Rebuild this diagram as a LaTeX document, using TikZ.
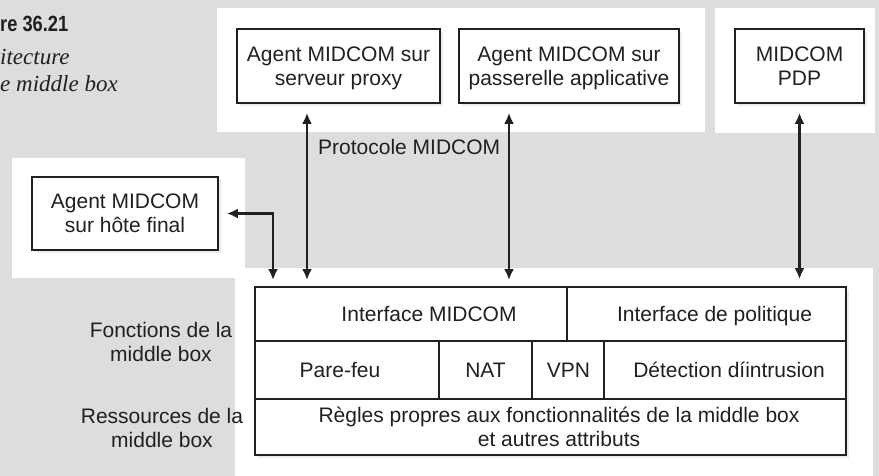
\documentclass[tikz,border=0pt]{standalone}
\usepackage{fontspec}
\setmainfont{Liberation Sans}
\newfontfamily\captionserif{Liberation Serif}
\usepackage{graphicx}
\usepackage{tikz}
\usetikzlibrary{arrows.meta, positioning, shadows}
\definecolor{panelgrey}{RGB}{220,221,223}
\definecolor{inkdark}{RGB}{35,31,32}

\begin{document}
\begin{tikzpicture}[x=1pt, y=-1pt,
  every node/.style={text=inkdark, inner sep=0pt, font=\fontsize{21}{24}\selectfont},
  panel/.style={fill=white, draw=none},
  agentbox/.style={draw=inkdark, line width=1.8pt, fill=white, align=center, text depth=0pt,
    drop shadow={opacity=0.15, shadow xshift=3pt, shadow yshift=-3pt}},
  gridline/.style={draw=inkdark, line width=1.8pt},
  sidelabel/.style={align=center, text depth=0pt},
  link/.style={draw=inkdark, line width=2.4pt, {Latex[length=11pt,width=10pt]}-{Latex[length=11pt,width=10pt]},
    shorten <=9pt, shorten >=7pt}]
  \useasboundingbox (0,0) rectangle (879,476);
  \fill[panelgrey] (0,0) rectangle (879,476);
  % white panels
  \fill[panel] (217,8) rectangle (705,132);
  \fill[panel] (715,8) rectangle (875,133);
  \fill[panel] (12,158) rectangle (245,278);
  \fill[panel] (235,268) rectangle (873,476);

  % figure title
  \node[anchor=base west, font=\fontsize{22}{26}\bfseries\selectfont] (fignum) at (0,32) {\scalebox{0.83}[1]{re 36.21}};
  \node[anchor=base west, font=\captionserif\itshape\fontsize{23}{28}\selectfont] (figcap1) at (0,65) {itecture};
  \node[anchor=base west, font=\captionserif\itshape\fontsize{23}{28}\selectfont] (figcap2) at (0,92) {e middle box};

  % agents
  \node[agentbox, minimum width=203, minimum height=74] (proxy) at (338.5,66) {Agent MIDCOM sur\\serveur proxy};
  \node[agentbox, minimum width=220, minimum height=74] (gateway) at (569,66) {Agent MIDCOM sur\\passerelle applicative};
  \node[agentbox, minimum width=129, minimum height=74] (pdp) at (799.5,66) {MIDCOM\\PDP};
  \node[agentbox, minimum width=186, minimum height=73] (host) at (125,213.5) {Agent MIDCOM\\sur h\^ote final};

  % middle box
  \node[agentbox, minimum width=591, minimum height=168] (mbox) at (550.5,371) {};
  \draw[gridline] (255,341) -- (846,341);
  \draw[gridline] (255,399) -- (846,399);
  \draw[gridline] (567,287) -- (567,341);
  \draw[gridline] (439,341) -- (439,399);
  \draw[gridline] (532,341) -- (532,399);
  \draw[gridline] (604,341) -- (604,399);
  \node[anchor=base] (ifmidcom) at (429,321.5) {Interface MIDCOM};
  \node[anchor=base] (ifpolicy) at (714.5,321.5) {Interface de politique};
  \node[anchor=base] (firewall) at (340,377.5) {Pare-feu};
  \node[anchor=base] (nat) at (485.5,377.5) {NAT};
  \node[anchor=base] (vpn) at (568.5,377.5) {VPN};
  \node[anchor=base] (ids) at (729,377.5) {D\'etection d\'iintrusion};
  \node[sidelabel] (rules) at (559,427) {R\`egles propres aux fonctionnalit\'es de la middle box\\et autres attributs};

  \node[sidelabel] (funcs) at (161,342) {Fonctions de la\\middle box};
  \node[sidelabel] (rsrc) at (162,428) {Ressources de la\\middle box};

  % protocol links
  \coordinate (inhost) at (273,287);
  \coordinate (inproxy) at (307,287);
  \coordinate (ingateway) at (509,287);
  \draw[link, shorten <=8pt] (host.east) -| (inhost);
  \draw[link] (proxy.south -| inproxy) -- (inproxy);
  \draw[link] (gateway.south -| ingateway) -- (ingateway);
  \draw[link] (pdp.south) -- (pdp.south |- mbox.north);
  \node[anchor=west] (proto) at (318,147) {Protocole MIDCOM};
\end{tikzpicture}
\end{document}
